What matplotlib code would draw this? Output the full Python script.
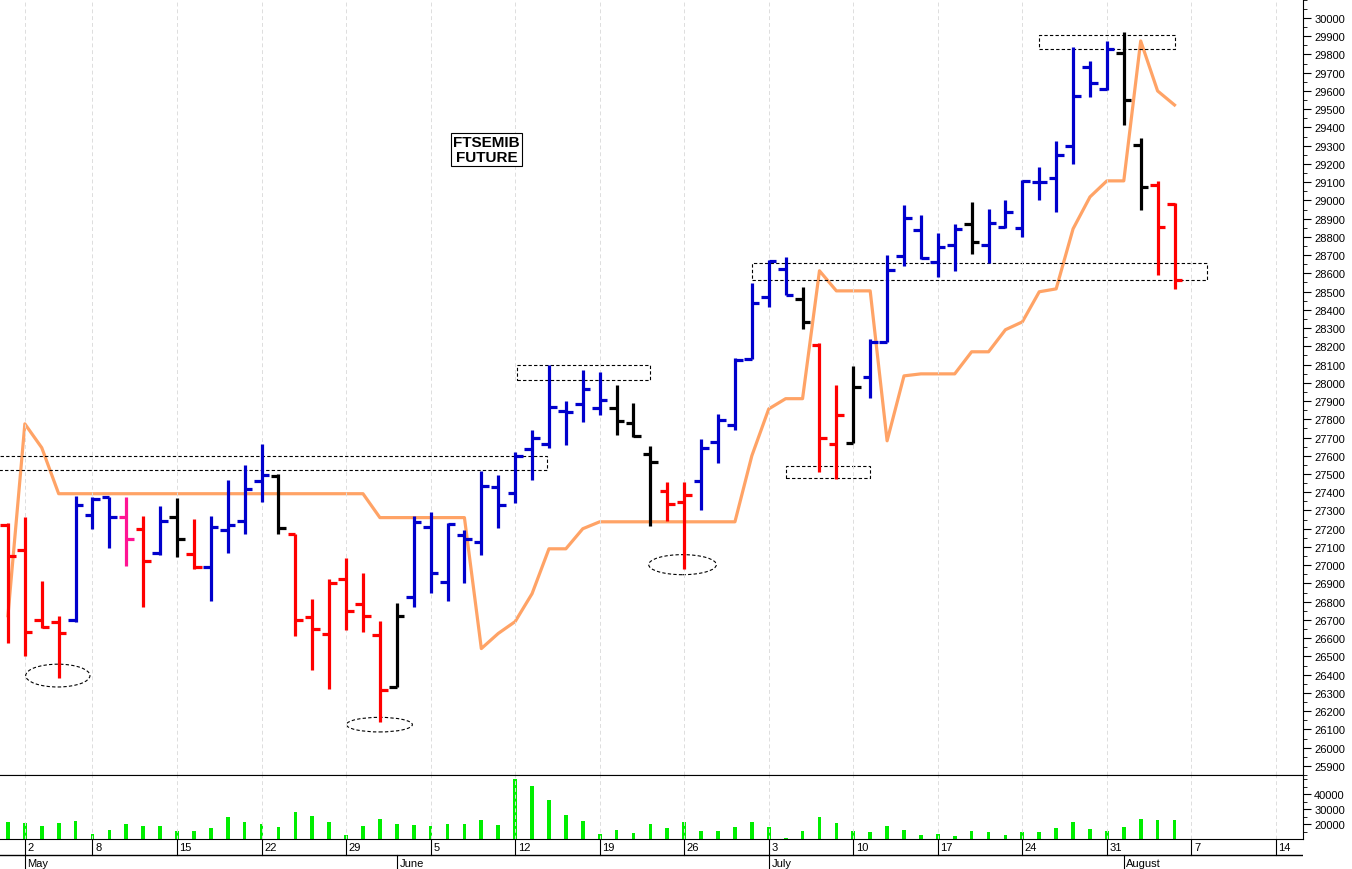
import matplotlib
matplotlib.use("Agg")
import matplotlib.pyplot as plt
from matplotlib.patches import Rectangle, Ellipse
import numpy as np

plt.rcParams['font.family'] = ['Liberation Sans', 'DejaVu Sans']

opens = [27222,27085,26701,26691,26701,27277,27375,27266,27200,27069,27266,27063,26992,27195,27244,27463,27491,
         27173,26718,26625,26926,26789,26619,26334,26828,27211,26910,27167,27129,27430,27397,27639,27666,27847,
         27885,27863,27863,27781,27611,27408,27348,27463,27677,27770,28132,28471,28625,28460,28208,27666,27671,
         28033,28224,28696,28838,28663,28756,28871,28756,28855,28849,29101,29123,29299,29731,29611,29808,29304,
         29085,28981]
highs = [27233,27266,26915,26723,27381,27375,27375,27375,27271,27326,27370,27255,27271,27469,27551,27666,27502,
         27173,26817,26926,27041,26959,26696,26795,27271,27293,27233,27195,27518,27496,27622,27743,28099,27901,
         28071,28060,27989,27891,27655,27458,27458,27694,27830,28137,28548,28674,28690,28526,28219,27989,28093,
         28241,28701,28976,28921,28822,28871,28992,28954,29003,29112,29184,29326,29841,29764,29874,29923,29342,
         29107,28986]
lows = [26576,26504,26658,26384,26691,27200,27096,26997,26773,27058,27047,26981,26806,27069,27173,27348,27173,
        26614,26428,26323,26647,26636,26143,26334,26773,26850,26806,26904,27058,27206,27343,27469,27644,27661,
        27787,27825,27715,27704,27217,27244,26981,27305,27562,27743,28132,28417,28482,28296,27513,27474,27671,
        27918,28224,28641,28680,28581,28614,28707,28658,28849,28800,29003,28937,29200,29567,29605,29414,28948,
        28592,28515]
closes = [27052,26636,26663,26630,27332,27364,27266,27145,27025,27244,27145,26992,27211,27222,27419,27496,27206,
          26701,26652,26904,26751,26723,26318,26723,27238,26959,27228,27145,27436,27332,27600,27699,27869,27841,
          27967,27907,27792,27710,27567,27337,27386,27644,27798,28126,28439,28668,28482,28334,27699,27825,27978,
          28224,28619,28904,28685,28745,28843,28773,28877,28937,29107,29101,29249,29573,29644,29830,29551,29074,
          28855,28565]
bar_colors = list("rrrrbbbprbkrbbbbkrrrrrrkbbbbbbbbbbbbkkkrrbbbbbbkrrkbbbbbbkbbbbbbbbkkrr")
line_vals = [26723,27775,27644,27392,27392,27392,27392,27392,27392,27392,27392,27392,27392,27392,27392,27392,
             27392,27392,27392,27392,27392,27392,27261,27261,27261,27261,27261,27261,26543,26626,26691,26844,
             27090,27090,27200,27238,27238,27238,27238,27238,27238,27238,27238,27238,27600,27857,27913,27913,
             28614,28504,28504,28504,27682,28038,28049,28049,28049,28170,28170,28291,28334,28499,28515,28844,
             29019,29107,29107,29874,29600,29523]
volumes = [21500,20700,18900,20700,22200,13300,16200,20000,18900,18900,15500,15500,17100,24400,21500,20000,18200,
           27800,25100,21500,12900,18400,23300,20000,19300,18400,20000,20000,22700,19300,50000,45100,36200,26000,
           22000,13300,16200,13800,20000,17100,21500,15100,15500,18200,21100,17800,10700,15500,24400,20400,15500,
           14900,18400,16200,12700,13300,12200,15500,14400,12900,14400,14400,17300,21100,16700,15100,17800,23300,
           22700,22700]
week_ticks = [1, 5, 10, 15, 20, 25, 30, 35, 40, 45, 50, 55, 60, 65, 70, 75]
week_labels = ["2", "8", "15", "22", "29", "5", "12", "19", "26", "3", "10", "17", "24", "31", "7", "14"]
month_ticks = [1, 23, 45, 66]
month_labels = ["May", "June", "July", "August"]

cmap = {'r': '#ff0000', 'b': '#0000cc', 'k': '#000000', 'p': '#ff1493'}
W, H = 1352, 870
fig = plt.figure(figsize=(W/100, H/100), dpi=100)
AX_R = 1303/W
ax = fig.add_axes([0, 94/H, AX_R, 776/H])
axv = fig.add_axes([0, 30/H, AX_R, 64/H])
axd = fig.add_axes([0, 0, AX_R, 30/H])
XL = (-0.47, 76.6)

x = np.arange(len(opens))
tw = 0.45
for i in x:
    c = cmap[bar_colors[i]]
    ax.plot([i, i], [lows[i], highs[i]], color=c, lw=2.3, solid_capstyle='butt')
    ax.plot([i - tw, i], [opens[i], opens[i]], color=c, lw=2.3, solid_capstyle='butt')
    ax.plot([i, i + tw], [closes[i], closes[i]], color=c, lw=2.3, solid_capstyle='butt')
ax.plot(x, line_vals, color='#ffa366', lw=2.3, zorder=1)

# annotations
rects = [(-1, 27521, 32.9, 77), (30.1, 28016, 7.9, 83), (44.0, 28564, 26.9, 94),
         (46.0, 27478, 5.0, 66), (61.0, 29830, 8.0, 77)]
for (rx, ry, rw, rh) in rects:
    ax.add_patch(Rectangle((rx, ry), rw, rh, fill=False, ls=(0, (3, 2)), lw=0.8, ec='black'))
for (ex, ey, ew, eh) in [(2.95, 26395, 3.8, 125), (21.97, 26126, 3.9, 80), (39.9, 27003, 4.0, 110)]:
    ax.add_patch(Ellipse((ex, ey), ew, eh, fill=False, ls=(0, (3, 2)), lw=0.8, ec='black'))
ax.text(28.3, 29277, "FTSEMIB\nFUTURE", ha='center', va='center', fontsize=11, fontweight='bold',
        family=['Liberation Sans'], linespacing=1.1,
        bbox=dict(boxstyle='square,pad=0.12', fc='white', ec='black', lw=0.8))

ax.set_xlim(*XL)
ax.set_ylim(25852, 30104)
ax.yaxis.tick_right()
ax.set_yticks(np.arange(25900, 30001, 100))
ax.set_yticks(np.arange(25850, 30101, 50), minor=True)
ax.tick_params(axis='y', labelsize=8, length=6, direction='out', pad=2)
ax.tick_params(axis='y', which='minor', length=3)
ax.set_xticks(week_ticks)
ax.tick_params(axis='x', length=0, labelbottom=False)
ax.grid(axis='x', color='#dddddd', ls=(0, (4, 3)), lw=0.7)
for s in ['left', 'top']:
    ax.spines[s].set_visible(False)

axv.bar(x, np.array(volumes) - 10000, bottom=10000, width=0.22, color='#00ee00')
axv.set_xlim(*XL)
axv.set_ylim(10000, 52700)
axv.yaxis.tick_right()
axv.set_yticks([20000, 30000, 40000])
axv.set_yticks(np.arange(15000, 52000, 5000), minor=True)
axv.tick_params(axis='y', labelsize=8, length=6, pad=2)
axv.tick_params(axis='y', which='minor', length=3)
axv.set_xticks(week_ticks)
axv.tick_params(axis='x', length=0, labelbottom=False)
axv.grid(axis='x', color='#dddddd', ls=(0, (4, 3)), lw=0.7)
axv.spines['left'].set_visible(False)

axd.set_xlim(*XL)
axd.set_ylim(0, 30)
axd.axis('off')
axd.plot(XL, [14, 14], color='black', lw=1)
for t, lab in zip(week_ticks, week_labels):
    axd.plot([t, t], [14, 30], color='black', lw=0.8)
    axd.text(t + 0.15, 22, lab, fontsize=8, va='center', ha='left')
for t, lab in zip(month_ticks, month_labels):
    axd.plot([t, t], [0, 14], color='black', lw=0.8)
    axd.text(t + 0.15, 6, lab, fontsize=8, va='center', ha='left')

fig.savefig("out.png", dpi=100)
